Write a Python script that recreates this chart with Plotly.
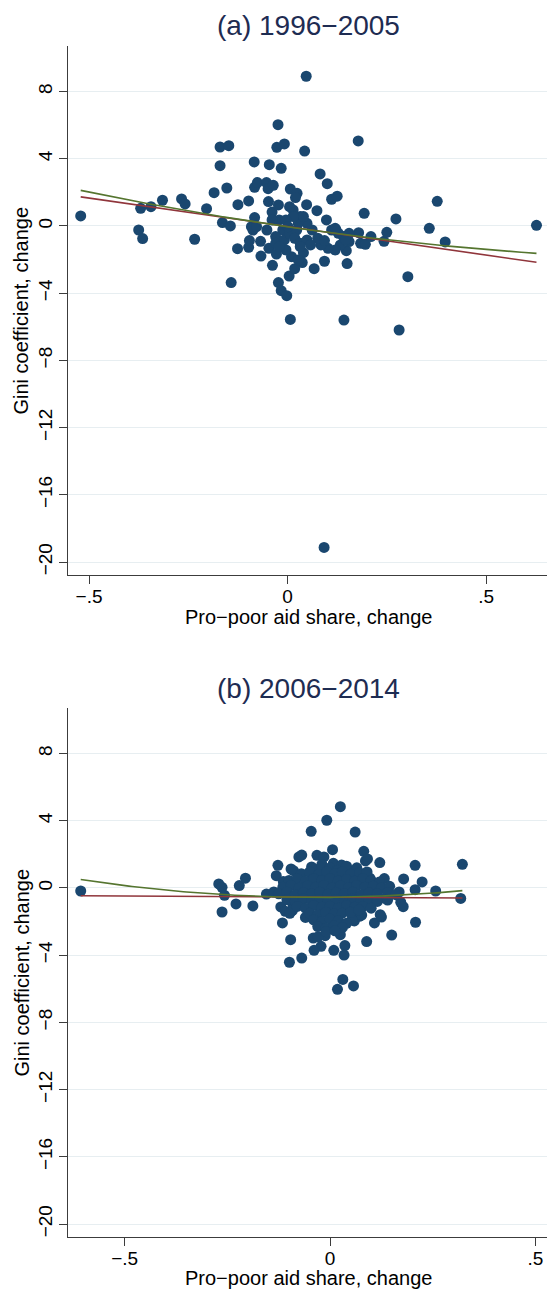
import numpy as np
import plotly.graph_objects as go

# ---------------- Panel (a) 1996-2005 ----------------
a_x = [-0.521, -0.375, -0.365, -0.370, -0.344, -0.315, -0.267, -0.258, -0.234, -0.204,
       -0.185, -0.170, -0.148, -0.170, -0.153, -0.164, -0.144, -0.142, -0.125, -0.126,
       -0.098, -0.098, -0.096, -0.084, -0.083, -0.076, -0.083, -0.087, -0.067, -0.068,
       -0.053, -0.049, -0.036, -0.046, -0.048, -0.039, -0.052, -0.047, -0.038, -0.028,
       -0.027, -0.024, -0.008, -0.016, -0.023, -0.023, -0.016, -0.002, 0.004, 0.007,
       0.047, 0.043, 0.007, 0.024, 0.020, 0.048, 0.082, 0.100, 0.074, 0.098,
       0.111, 0.125, 0.178, 0.193, 0.179, 0.184, 0.196, 0.210, 0.243, 0.250,
       0.273, 0.303, 0.281, 0.357, 0.377, 0.397, 0.627, 0.142, 0.150, 0.148,
       0.093, 0.067, 0.037, 0.018, 0.040, 0.010, -0.004, 0.122, 0.128, 0.141,
       0.155, 0.133, 0.120, 0.102, 0.084, 0.076, 0.062, 0.049, 0.032, 0.014,
       0.005, -0.021, -0.012, -0.030, -0.030, -0.008, 0.005, 0.023, 0.018, 0.032,
       0.049, 0.058, 0.027, 0.040, 0.014, -0.004, 0.001, 0.093, 0.111, 0.120,
       0.155, 0.146, -0.039, -0.091, -0.078, 0.027, 0.032, -0.021, 0.092]
a_y = [0.60, -0.24, -0.75, 1.05, 1.15, 1.53, 1.61, 1.31, -0.79, 1.03,
       1.98, 4.70, 4.78, 3.59, 2.26, 0.20, 0.00, -3.37, 1.27, -1.35,
       1.49, -1.27, -0.87, 3.81, 2.30, 2.58, 0.50, -0.24, -1.79, -0.91,
       2.58, 2.22, 2.42, 3.65, 1.45, 0.83, -0.24, -1.33, -2.34, -1.67,
       4.68, 6.03, 4.88, 3.43, 1.25, -3.37, -3.85, -4.15, -2.98, -5.56,
       8.91, 4.46, 2.20, 1.94, 1.69, 1.27, 3.10, 2.52, 0.91, 0.36,
       1.59, 1.77, 5.06, 0.75, -0.40, -1.03, -1.09, -0.63, -0.91, -0.38,
       0.42, -3.02, -6.19, -0.14, 1.47, -0.95, 0.04, -5.60, -2.24, -1.47,
       -2.10, -2.54, -2.18, -2.54, -1.59, -1.83, -1.43, -0.24, -0.44, -0.63,
       -0.93, -1.13, -1.43, -1.33, -1.13, -0.73, -0.24, 0.16, 0.56, 0.95,
       1.15, 0.36, -0.24, -0.63, -1.03, -0.83, -0.44, -0.24, -0.73, -1.03,
       -0.83, -1.13, 0.16, 0.56, 0.56, 0.36, -0.04, -0.87, -0.24, -0.14,
       -0.44, -0.83, 0.36, -0.04, -0.04, -2.02, -1.23, -1.23, -19.13]
# fitted lines: linear [b0, b1], quadratic [c0, c1, c2]
a_lin = [-0.036, -3.389]
a_quad = [-0.05, -3.418, 1.433]

# ---------------- Panel (b) 2006-2014 ----------------
b_outer_x = [-0.607, -0.271, -0.263, -0.257, -0.263, -0.229, -0.221, -0.206, -0.188, -0.155,
             -0.137, -0.127, -0.131, -0.095, -0.076, -0.069, -0.046, -0.008, 0.025, 0.061,
             0.006, -0.032, -0.015, 0.082, 0.086, 0.091, 0.121, 0.132, 0.135, 0.168,
             0.179, 0.207, 0.224, 0.207, 0.257, 0.322, 0.318, 0.172, 0.178, 0.208,
             0.150, 0.089, 0.108, 0.125, 0.122, 0.059, 0.071, 0.025, 0.036, 0.034,
             0.009, -0.022, -0.039, -0.041, -0.012, -0.069, -0.099, -0.096, -0.116, -0.060,
             -0.120, -0.109, -0.092, 0.031, 0.018, 0.057]
b_outer_y = [-0.18, 0.24, 0.04, -0.44, -1.43, -0.95, 0.14, 0.58, -1.07, -0.36,
             -0.24, 1.35, 0.73, 1.13, 1.85, 1.96, 3.37, 4.03, 4.84, 3.33,
             2.28, 1.94, 1.85, 2.18, 1.61, 1.73, 1.51, 0.56, -0.62, -0.24,
             0.54, 1.35, 0.36, -0.10, -0.18, 1.41, -0.62, -0.85, -1.11, -2.04,
             -2.80, -3.19, -2.08, -1.73, -1.59, -1.96, -1.69, -2.78, -3.43, -3.99,
             -3.71, -3.47, -3.71, -2.98, -2.84, -4.17, -4.42, -3.08, -2.08, -1.75,
             -1.13, -1.39, -1.35, -5.44, -6.03, -5.83]
b_mid_x = [-0.114, -0.089, -0.041, -0.025, 0.008, 0.028, 0.045, 0.057, 0.097, 0.081,
           0.113, -0.029, 0.053, 0.077, -0.090, -0.098]
b_mid_y = [0.38, 1.03, 0.97, 1.17, 1.47, 1.37, 1.07, 0.77, 0.58, 0.38,
           0.18, -2.90, -1.90, -1.61, -1.01, -1.51]
b_core_x = [-0.045, -0.020, 0.000, 0.018, 0.040, 0.065,
            -0.070, -0.050, -0.028, -0.008, 0.012, 0.030, 0.050, 0.072, 0.090,
            -0.100, -0.080, -0.060, -0.040, -0.020, 0.000, 0.020, 0.040, 0.060, 0.080, 0.100, 0.120,
            -0.115, -0.095, -0.075, -0.055, -0.035, -0.015, 0.005, 0.025, 0.045, 0.065, 0.085, 0.105, 0.125, 0.145,
            -0.125, -0.105, -0.085, -0.065, -0.045, -0.025, -0.005, 0.015, 0.035, 0.055, 0.075, 0.095, 0.115, 0.140, 0.160,
            -0.105, -0.085, -0.065, -0.045, -0.025, -0.005, 0.015, 0.035, 0.055, 0.075, 0.095, 0.115, 0.140,
            -0.080, -0.060, -0.040, -0.020, 0.000, 0.020, 0.040, 0.060, 0.080, 0.100,
            -0.050, -0.030, -0.010, 0.010, 0.030, 0.050, 0.070,
            -0.040, -0.020, 0.000, 0.020, 0.040,
            -0.030, -0.010, 0.010, 0.030,
            -0.010, 0.012]
b_core_y = [1.25, 1.40, 1.20, 1.05, 1.30, 1.20,
            0.85, 0.95, 0.80, 0.95, 0.85, 0.95, 0.82, 0.90, 0.95,
            0.45, 0.55, 0.40, 0.55, 0.45, 0.55, 0.42, 0.50, 0.40, 0.55, 0.45, 0.35,
            0.05, 0.15, 0.00, 0.12, 0.05, 0.15, 0.00, 0.12, 0.02, 0.15, 0.05, 0.10, 0.00, 0.10,
            -0.35, -0.25, -0.40, -0.28, -0.35, -0.25, -0.38, -0.28, -0.35, -0.25, -0.40, -0.30, -0.35, -0.28, -0.40,
            -0.70, -0.78, -0.65, -0.75, -0.68, -0.80, -0.70, -0.75, -0.65, -0.78, -0.70, -0.80, -0.72,
            -1.10, -1.20, -1.05, -1.15, -1.10, -1.20, -1.05, -1.15, -1.10, -1.20,
            -1.50, -1.60, -1.45, -1.55, -1.50, -1.45, -1.30,
            -1.90, -2.00, -1.85, -1.95, -2.10,
            -2.30, -2.40, -2.25, -2.35,
            -2.60, -2.55]
b_lin = [-0.552, -0.151]
b_quad = [-0.557, 0.2016, 3.20]

b_x = b_outer_x + b_mid_x + b_core_x
b_y = b_outer_y + b_mid_y + b_core_y

y_ticks = [-20, -16, -12, -8, -4, 0, 4, 8]
y_ticktext = ["\u221220", "\u221216", "\u221212", "\u22128", "\u22124", "0", "4", "8"]
x_ticks = [-0.5, 0, 0.5]
x_ticktext = ["\u2212.5", "0", ".5"]

NAVY = "#1a476f"
MAROON = "#90353b"
GREEN = "#55752f"
TITLE_C = "#1e2c52"
FONT = "Liberation Sans, Arial, Helvetica, sans-serif"
W, H = 547, 1289

fig = go.Figure()


def add_panel(xs, ys, lin, quad, xa, ya):
    fig.add_trace(go.Scatter(x=xs, y=ys, mode="markers",
                             marker=dict(color=NAVY, size=11, line=dict(width=0)),
                             xaxis=xa, yaxis=ya, showlegend=False, hoverinfo="skip"))
    xl = np.linspace(min(xs), max(xs), 120)
    fig.add_trace(go.Scatter(x=xl, y=lin[0] + lin[1] * xl, mode="lines",
                             line=dict(color=MAROON, width=1.6),
                             xaxis=xa, yaxis=ya, showlegend=False, hoverinfo="skip"))
    fig.add_trace(go.Scatter(x=xl, y=quad[0] + quad[1] * xl + quad[2] * xl ** 2, mode="lines",
                             line=dict(color=GREEN, width=1.6),
                             xaxis=xa, yaxis=ya, showlegend=False, hoverinfo="skip"))


add_panel(a_x, a_y, a_lin, a_quad, "x", "y")
add_panel(b_x, b_y, b_lin, b_quad, "x2", "y2")

AXC = "#3c3c3c"


def xaxis_cfg(rng, anchor):
    return dict(domain=[68.4 / W, 1.0], anchor=anchor, range=rng,
                tickvals=x_ticks, ticktext=x_ticktext, showgrid=False, zeroline=False,
                showline=True, linecolor=AXC, linewidth=1.2, ticks="outside", ticklen=8,
                tickcolor=AXC, tickwidth=1.2, ticklabelstandoff=-4,
                tickfont=dict(size=19, color="black", family=FONT))


def yaxis_cfg(top_px, bot_px, anchor):
    return dict(domain=[1 - bot_px / H, 1 - top_px / H], anchor=anchor, range=[-20.77, 10.71],
                tickvals=y_ticks, ticktext=y_ticktext, tickangle=-90, showgrid=True,
                gridcolor="#e7eef1", gridwidth=1.3, zeroline=False, showline=True,
                linecolor=AXC, linewidth=1.2, ticks="outside", ticklen=8, tickcolor=AXC,
                tickwidth=1.2, tickfont=dict(size=19, color="black", family=FONT))


fig.update_layout(
    width=W, height=H, margin=dict(l=0, r=0, t=0, b=0),
    plot_bgcolor="white", paper_bgcolor="white",
    font=dict(family=FONT, color="black"),
    xaxis=xaxis_cfg([-0.552, 0.6535], "y"),
    yaxis=yaxis_cfg(46, 575, "x"),
    xaxis2=xaxis_cfg([-0.637, 0.528], "y2"),
    yaxis2=yaxis_cfg(708, 1237, "x2"),
)

cx = 308.5 / W
ann = [
    dict(text="(a) 1996\u22122005", x=cx, y=1 - 25.5 / H, size=28, color=TITLE_C, angle=0),
    dict(text="Pro\u2212poor aid share, change", x=cx, y=1 - 617 / H, size=20, color="black", angle=0),
    dict(text="Gini coefficient, change", x=21 / W, y=1 - 310.5 / H, size=20, color="black", angle=-90),
    dict(text="(b) 2006\u22122014", x=cx, y=1 - 688 / H, size=28, color=TITLE_C, angle=0),
    dict(text="Pro\u2212poor aid share, change", x=cx, y=1 - 1278 / H, size=20, color="black", angle=0),
    dict(text="Gini coefficient, change", x=21 / W, y=1 - 972.5 / H, size=20, color="black", angle=-90),
]
for a in ann:
    fig.add_annotation(text=a["text"], x=a["x"], y=a["y"], xref="paper", yref="paper",
                       xanchor="center", yanchor="middle", showarrow=False, textangle=a["angle"],
                       font=dict(size=a["size"], color=a["color"], family=FONT))

fig.write_html("out.html", config={"displayModeBar": False},
               post_script="document.body.style.margin='0';document.body.style.overflow='hidden';")
